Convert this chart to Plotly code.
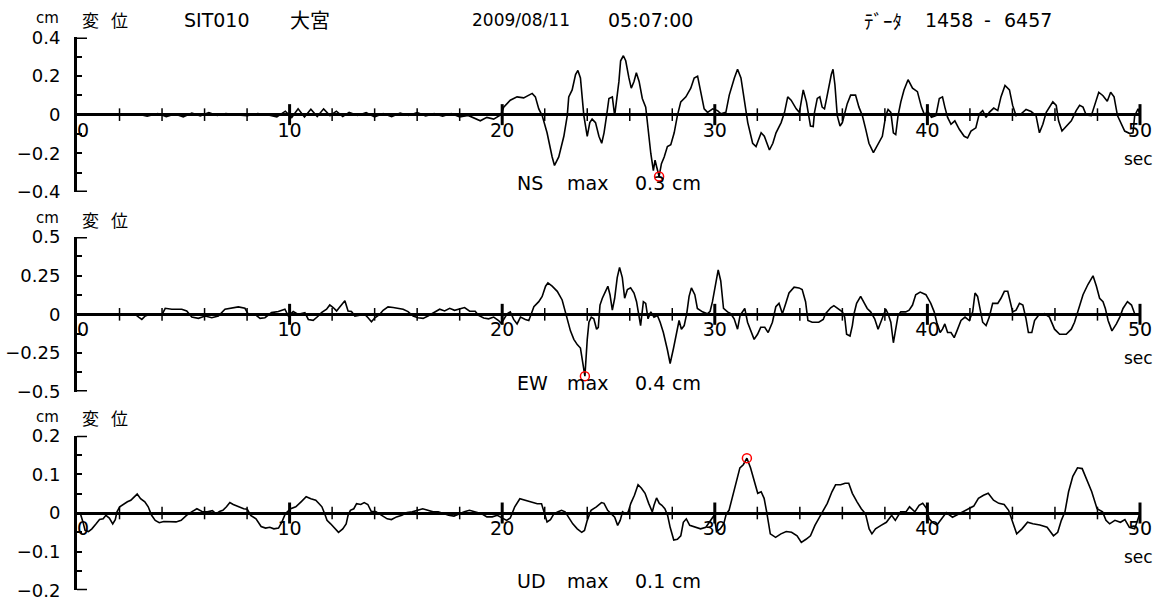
import plotly.graph_objects as go

# ---------------------------------------------------------------------------
# Displacement records (time in s, displacement in cm) for the three components
# ---------------------------------------------------------------------------
NS_TRACE = [
    (0.0, 0.0), (2.0, 0.0), (2.8, 0.005), (3.3, -0.008), (3.8, 0.006), (4.2, -0.010),
    (4.6, 0.004), (5.0, -0.012), (5.4, 0.008), (5.8, -0.006), (6.2, 0.010), (6.6, -0.004),
    (7.0, 0.006), (7.4, 0.0), (8.0, -0.005), (8.5, 0.006), (9.0, -0.002), (9.4, -0.012),
    (9.8, 0.018), (10.1, -0.015), (10.4, 0.030), (10.7, -0.012), (11.0, 0.028), (11.3, -0.010),
    (11.6, 0.030), (11.9, -0.005), (12.2, 0.018), (12.5, -0.010), (12.8, 0.012), (13.2, -0.004),
    (13.6, 0.010), (14.0, -0.012), (14.4, 0.006), (14.8, -0.010), (15.2, 0.008), (15.6, -0.004),
    (16.0, 0.010), (16.4, -0.006), (16.8, 0.005), (17.2, -0.008), (17.6, 0.006), (18.0, -0.012),
    (18.4, -0.004), (18.97, -0.032), (19.28, -0.014), (19.60, -0.023), (19.94, 0.0), (20.07, 0.039),
    (20.38, 0.075), (20.70, 0.092), (21.01, 0.087), (21.25, 0.101), (21.41, 0.110), (21.56, 0.092),
    (21.72, 0.030), (21.88, -0.005), (22.11, -0.094), (22.35, -0.219), (22.46, -0.263), (22.66, -0.219),
    (22.90, -0.112), (23.06, -0.005), (23.13, 0.092), (23.29, 0.128), (23.45, 0.208), (23.56, 0.229),
    (23.68, 0.190), (23.84, -0.005), (24.00, -0.112), (24.12, -0.041), (24.23, -0.023), (24.39, -0.041),
    (24.55, -0.112), (24.68, -0.148), (24.79, -0.094), (24.91, -0.005), (25.02, 0.084), (25.18, 0.092),
    (25.29, -0.005), (25.49, 0.172), (25.57, 0.279), (25.70, 0.305), (25.81, 0.279), (25.96, 0.190),
    (26.07, 0.137), (26.20, 0.172), (26.31, 0.217), (26.44, 0.172), (26.59, 0.084), (26.75, 0.039),
    (26.88, -0.112), (26.99, -0.201), (27.11, -0.290), (27.19, -0.236), (27.27, -0.272), (27.38, -0.320),
    (27.49, -0.254), (27.62, -0.219), (27.77, -0.165), (27.93, -0.156), (28.09, -0.094), (28.24, -0.005),
    (28.40, 0.066), (28.64, 0.092), (28.87, 0.137), (29.03, 0.190), (29.19, 0.199), (29.35, 0.110),
    (29.50, 0.030), (29.66, 0.012), (29.90, 0.030), (30.13, 0.021), (30.29, 0.004), (30.52, 0.012),
    (30.68, 0.101), (30.92, 0.190), (31.07, 0.235), (31.23, 0.190), (31.39, 0.066), (31.55, -0.041),
    (31.78, -0.148), (31.94, -0.165), (32.18, -0.094), (32.33, -0.112), (32.57, -0.183), (32.73, -0.148),
    (32.88, -0.094), (33.12, -0.041), (33.28, 0.012), (33.43, 0.092), (33.59, 0.075), (33.83, 0.030),
    (33.98, 0.012), (34.16, 0.128), (34.31, 0.066), (34.42, -0.005), (34.50, -0.059), (34.63, -0.062),
    (34.69, 0.012), (34.82, 0.084), (34.94, 0.092), (35.05, 0.039), (35.16, 0.030), (35.26, 0.084),
    (35.37, 0.155), (35.48, 0.208), (35.56, 0.235), (35.65, 0.155), (35.76, -0.005), (35.89, -0.059),
    (36.00, -0.041), (36.11, 0.012), (36.23, 0.057), (36.39, 0.101), (36.62, 0.101), (36.78, 0.039),
    (36.94, -0.005), (37.10, -0.076), (37.25, -0.148), (37.46, -0.197), (37.68, -0.148), (37.88, -0.112),
    (38.04, -0.005), (38.15, 0.027), (38.28, 0.012), (38.40, -0.094), (38.51, -0.103), (38.62, -0.005),
    (38.75, 0.066), (38.90, 0.128), (39.09, 0.181), (39.30, 0.137), (39.53, 0.119), (39.72, 0.039),
    (39.88, -0.005), (40.00, 0.021), (40.19, -0.014), (40.40, -0.005), (40.56, 0.084), (40.71, 0.092),
    (40.82, 0.039), (40.95, -0.014), (41.11, -0.050), (41.29, -0.032), (41.50, -0.076), (41.73, -0.112),
    (41.89, -0.121), (42.05, -0.085), (42.28, -0.068), (42.44, 0.004), (42.60, 0.021), (42.76, -0.014),
    (42.91, 0.012), (43.12, 0.034), (43.31, 0.021), (43.46, 0.092), (43.65, 0.151), (43.86, 0.128),
    (44.01, 0.048), (44.17, -0.005), (44.41, 0.004), (44.64, 0.027), (44.88, 0.016), (45.11, -0.005),
    (45.27, -0.094), (45.43, -0.050), (45.59, 0.012), (45.74, 0.039), (45.90, 0.066), (46.06, 0.048),
    (46.17, -0.032), (46.33, -0.085), (46.53, -0.059), (46.77, -0.032), (47.00, 0.021), (47.16, 0.048),
    (47.32, 0.039), (47.47, -0.002), (47.71, -0.005), (47.87, 0.048), (48.06, 0.116), (48.26, 0.098),
    (48.46, 0.069), (48.62, 0.116), (48.78, 0.092), (48.94, -0.005), (49.12, -0.050), (49.28, -0.085),
    (49.52, -0.098), (49.67, -0.094), (49.75, -0.005), (49.91, 0.030), (50.0, 0.0),
]

EW_TRACE = [
    (0.0, 0.0), (2.03, 0.0), (2.74, 0.0), (2.90, -0.018), (3.05, -0.033), (3.21, -0.011),
    (3.44, 0.0), (3.99, -0.004), (4.15, 0.039), (4.46, 0.033), (4.93, 0.033), (5.16, 0.022),
    (5.40, -0.018), (5.71, -0.026), (6.03, -0.011), (6.34, -0.022), (6.65, -0.011), (6.96, 0.033),
    (7.28, 0.039), (7.59, 0.048), (7.90, 0.039), (8.06, 0.0), (8.37, 0.0), (8.61, -0.026),
    (8.84, -0.022), (9.15, 0.011), (9.47, 0.018), (9.78, 0.033), (9.94, -0.011), (10.17, 0.018),
    (10.41, 0.0), (10.72, 0.011), (10.88, -0.033), (11.11, -0.039), (11.35, -0.011), (11.50, 0.011),
    (11.74, 0.033), (11.89, 0.061), (12.05, 0.044), (12.21, 0.022), (12.36, 0.048), (12.60, 0.088),
    (12.75, 0.022), (12.91, 0.018), (13.07, -0.011), (13.30, -0.004), (13.54, 0.0), (13.69, -0.022),
    (13.85, -0.048), (14.01, -0.022), (14.24, 0.0), (14.40, 0.026), (14.63, 0.048), (14.87, 0.044),
    (15.10, 0.039), (15.34, 0.033), (15.57, 0.018), (15.81, -0.011), (16.04, -0.022), (16.28, -0.026),
    (16.51, -0.011), (16.82, 0.011), (17.06, 0.033), (17.29, 0.022), (17.53, 0.039), (17.76, 0.026),
    (18.00, 0.033), (18.23, 0.044), (18.47, 0.020), (18.73, 0.020), (18.89, -0.007), (19.13, -0.024),
    (19.36, -0.029), (19.60, -0.018), (19.83, -0.040), (19.94, -0.056), (20.07, -0.033), (20.23, 0.004),
    (20.38, 0.016), (20.54, -0.033), (20.70, -0.062), (20.86, -0.018), (21.09, -0.033), (21.25, -0.040),
    (21.37, 0.004), (21.49, 0.049), (21.72, 0.082), (21.88, 0.116), (22.04, 0.182), (22.15, 0.204),
    (22.35, 0.182), (22.59, 0.149), (22.82, 0.093), (22.98, 0.016), (23.09, -0.051), (23.21, -0.107),
    (23.37, -0.162), (23.53, -0.196), (23.68, -0.218), (23.79, -0.318), (23.89, -0.400), (24.00, -0.162),
    (24.08, -0.051), (24.19, -0.018), (24.31, -0.029), (24.44, -0.096), (24.52, -0.084), (24.60, 0.060),
    (24.71, 0.104), (24.86, 0.149), (24.97, 0.182), (25.07, 0.127), (25.18, 0.027), (25.29, 0.104),
    (25.41, 0.238), (25.52, 0.304), (25.65, 0.238), (25.76, 0.104), (25.89, 0.160), (26.04, 0.171),
    (26.20, 0.138), (26.32, 0.082), (26.43, -0.007), (26.51, -0.073), (26.64, 0.082), (26.75, 0.071),
    (26.86, -0.029), (26.99, 0.016), (27.14, -0.018), (27.30, -0.007), (27.43, -0.051), (27.58, -0.118),
    (27.77, -0.229), (27.90, -0.318), (28.06, -0.218), (28.21, -0.107), (28.32, -0.040), (28.43, -0.096),
    (28.56, -0.073), (28.68, 0.004), (28.79, 0.116), (28.90, 0.171), (29.06, 0.127), (29.18, 0.038),
    (29.42, 0.016), (29.65, 0.004), (29.78, 0.020), (29.89, 0.082), (30.05, 0.216), (30.16, 0.287),
    (30.28, 0.216), (30.41, 0.038), (30.60, 0.016), (30.75, 0.004), (30.91, -0.029), (31.07, -0.096),
    (31.19, -0.007), (31.30, 0.020), (31.41, 0.038), (31.54, -0.051), (31.69, -0.107), (31.85, -0.162),
    (32.01, -0.129), (32.16, -0.084), (32.35, -0.084), (32.51, -0.118), (32.71, -0.051), (32.87, 0.049),
    (33.02, 0.071), (33.18, 0.004), (33.34, 0.071), (33.49, 0.138), (33.73, 0.176), (33.96, 0.171),
    (34.11, 0.160), (34.27, 0.082), (34.38, -0.040), (34.58, -0.051), (34.89, -0.051), (35.10, -0.033),
    (35.21, 0.004), (35.45, 0.042), (35.60, 0.056), (35.79, 0.038), (36.00, 0.016), (36.11, -0.018),
    (36.20, -0.129), (36.36, -0.140), (36.47, -0.073), (36.55, 0.004), (36.67, 0.071), (36.86, 0.116),
    (36.99, 0.082), (37.17, 0.038), (37.33, 0.016), (37.52, -0.029), (37.68, -0.096), (37.80, -0.051),
    (37.93, 0.004), (38.04, 0.033), (38.15, 0.004), (38.28, -0.051), (38.40, -0.184), (38.51, -0.107),
    (38.62, -0.007), (38.75, 0.016), (38.98, 0.016), (39.14, 0.027), (39.30, 0.060), (39.45, 0.127),
    (39.66, 0.144), (39.93, 0.127), (40.16, 0.071), (40.32, 0.016), (40.44, -0.051), (40.60, -0.118),
    (40.71, -0.096), (40.82, -0.062), (40.95, -0.118), (41.11, -0.118), (41.26, -0.151), (41.39, -0.107),
    (41.58, -0.040), (41.77, -0.018), (41.97, -0.040), (42.13, 0.016), (42.24, 0.138), (42.36, 0.116),
    (42.49, 0.027), (42.60, -0.051), (42.76, -0.073), (42.91, -0.018), (43.07, 0.071), (43.31, 0.071),
    (43.46, 0.104), (43.62, 0.149), (43.78, 0.149), (43.90, 0.082), (44.01, 0.016), (44.17, 0.027),
    (44.33, 0.071), (44.49, 0.060), (44.64, -0.029), (44.75, -0.118), (44.91, -0.118), (45.04, -0.040),
    (45.22, -0.007), (45.51, 0.004), (45.74, -0.018), (45.98, -0.096), (46.22, -0.129), (46.53, -0.129),
    (46.77, -0.096), (46.92, -0.051), (47.08, 0.027), (47.32, 0.127), (47.55, 0.193), (47.79, 0.249),
    (47.95, 0.182), (48.10, 0.104), (48.26, 0.082), (48.37, 0.038), (48.50, -0.040), (48.68, -0.107),
    (48.89, -0.062), (49.05, -0.018), (49.20, 0.038), (49.41, 0.082), (49.60, 0.060), (49.75, 0.004),
    (49.91, -0.007), (50.0, 0.0),
]

UD_TRACE = [
    (0.0, 0.0), (0.16, -0.002), (0.28, -0.023), (0.38, -0.045), (0.54, -0.048), (0.70, -0.041),
    (0.90, -0.028), (1.06, -0.017), (1.23, -0.015), (1.36, -0.006), (1.52, -0.013), (1.68, -0.028),
    (1.80, -0.017), (1.88, 0.003), (2.01, 0.016), (2.21, 0.024), (2.37, 0.029), (2.53, 0.033),
    (2.70, 0.042), (2.83, 0.049), (2.99, 0.037), (3.19, 0.029), (3.35, 0.016), (3.51, -0.006),
    (3.68, -0.019), (3.87, -0.025), (4.08, -0.022), (4.33, -0.023), (4.66, -0.023), (4.90, -0.019),
    (5.15, -0.006), (5.39, 0.003), (5.64, 0.011), (5.88, 0.004), (6.13, 0.003), (6.37, 0.006),
    (6.54, -0.002), (6.70, 0.004), (6.86, 0.007), (7.03, 0.016), (7.19, 0.027), (7.35, 0.022),
    (7.60, 0.016), (7.84, 0.011), (8.01, 0.010), (8.17, -0.006), (8.42, -0.015), (8.66, -0.035),
    (8.87, -0.039), (9.07, -0.037), (9.26, -0.041), (9.48, -0.039), (9.64, -0.023), (9.80, -0.002),
    (10.05, 0.011), (10.29, 0.016), (10.54, 0.029), (10.78, 0.042), (11.00, 0.037), (11.23, 0.033),
    (11.39, 0.024), (11.52, 0.016), (11.65, -0.002), (11.76, -0.019), (11.93, -0.028), (12.09, -0.037),
    (12.30, -0.050), (12.50, -0.041), (12.66, -0.028), (12.75, -0.006), (12.86, 0.007), (13.02, 0.011),
    (13.15, 0.024), (13.35, 0.022), (13.51, 0.027), (13.68, 0.022), (13.84, 0.004), (14.05, 0.004),
    (14.22, -0.002), (14.38, -0.008), (14.59, -0.015), (14.79, -0.017), (15.03, -0.010), (15.28, -0.006),
    (15.52, 0.001), (15.77, 0.003), (16.01, 0.007), (16.26, 0.011), (16.50, 0.007), (16.75, 0.003),
    (16.99, 0.003), (17.24, -0.002), (17.48, -0.006), (17.73, -0.008), (17.97, -0.002), (18.22, 0.003),
    (18.46, 0.007), (18.71, 0.003), (19.04, -0.002), (19.28, -0.010), (19.53, -0.010), (19.77, -0.006),
    (19.98, -0.013), (20.21, -0.019), (20.38, -0.013), (20.59, 0.016), (20.83, 0.037), (21.08, 0.033),
    (21.32, 0.029), (21.65, 0.024), (21.85, 0.024), (21.98, 0.003), (22.11, -0.023), (22.27, -0.017),
    (22.43, -0.002), (22.63, 0.003), (22.79, 0.007), (22.96, 0.003), (23.12, -0.010), (23.32, -0.028),
    (23.53, -0.041), (23.74, -0.050), (23.87, -0.045), (24.00, -0.019), (24.18, 0.007), (24.43, 0.016),
    (24.67, 0.027), (24.79, 0.025), (24.96, 0.007), (25.13, -0.002), (25.29, -0.011), (25.43, -0.032),
    (25.55, -0.019), (25.66, 0.003), (25.80, -0.002), (25.93, 0.003), (26.05, 0.025), (26.22, 0.046),
    (26.39, 0.073), (26.55, 0.064), (26.72, 0.051), (26.89, 0.025), (27.06, 0.003), (27.14, 0.020),
    (27.26, 0.039), (27.39, 0.025), (27.51, 0.020), (27.65, 0.011), (27.78, -0.006), (27.90, -0.037),
    (28.07, -0.070), (28.24, -0.068), (28.40, -0.059), (28.52, -0.024), (28.66, -0.015), (28.82, -0.032),
    (29.08, -0.037), (29.33, -0.041), (29.58, -0.037), (29.75, -0.024), (29.97, -0.006), (30.08, -0.048),
    (30.25, -0.041), (30.42, -0.028), (30.54, -0.002), (30.67, 0.007), (30.81, 0.038), (30.97, 0.073),
    (31.18, 0.117), (31.34, 0.125), (31.51, 0.142), (31.68, 0.117), (31.85, 0.082), (32.02, 0.051),
    (32.18, 0.055), (32.32, 0.038), (32.44, 0.003), (32.61, -0.054), (32.86, -0.063), (33.11, -0.054),
    (33.36, -0.048), (33.61, -0.050), (33.87, -0.059), (34.07, -0.076), (34.29, -0.068), (34.50, -0.059),
    (34.71, -0.032), (34.91, -0.011), (35.13, 0.011), (35.29, 0.025), (35.51, 0.055), (35.68, 0.073),
    (35.92, 0.073), (36.13, 0.077), (36.30, 0.077), (36.47, 0.051), (36.69, 0.029), (36.89, 0.011),
    (37.09, -0.002), (37.26, -0.041), (37.39, -0.054), (37.56, -0.041), (37.82, -0.032), (38.07, -0.024),
    (38.32, -0.006), (38.49, -0.019), (38.74, 0.003), (38.99, 0.003), (39.16, 0.016), (39.41, 0.003),
    (39.61, 0.020), (39.78, 0.025), (39.95, 0.013), (40.08, -0.015), (40.25, -0.025), (40.45, -0.031),
    (40.67, -0.015), (40.89, 0.001), (41.18, -0.011), (41.43, -0.004), (41.68, 0.003), (41.93, 0.011),
    (42.18, 0.018), (42.40, 0.038), (42.64, 0.046), (42.86, 0.051), (43.11, 0.033), (43.36, 0.025),
    (43.61, 0.022), (43.82, 0.007), (44.03, -0.024), (44.20, -0.054), (44.45, -0.041), (44.71, -0.024),
    (44.96, -0.028), (45.29, -0.031), (45.63, -0.037), (45.93, -0.059), (46.13, -0.050), (46.30, -0.019),
    (46.47, 0.003), (46.64, 0.055), (46.84, 0.095), (47.06, 0.117), (47.28, 0.115), (47.48, 0.090),
    (47.73, 0.055), (47.98, 0.011), (48.24, 0.003), (48.40, -0.019), (48.57, -0.028), (48.82, -0.019),
    (49.08, -0.024), (49.29, -0.017), (49.50, -0.037), (49.75, -0.041), (49.92, -0.015), (50.0, 0.0),
]

COMPONENTS = ["NS", "EW", "UD"]
TRACES = {"NS": NS_TRACE, "EW": EW_TRACE, "UD": UD_TRACE}

# vertical scale of each panel (cm)
Y_LIMIT = {"NS": 0.4, "EW": 0.5, "UD": 0.2}
Y_LABEL_VALUES = {
    "NS": [0.4, 0.2, 0.0, -0.2, -0.4],
    "EW": [0.5, 0.25, 0.0, -0.25, -0.5],
    "UD": [0.2, 0.1, 0.0, -0.1, -0.2],
}
Y_LABEL_TEXT = {
    "NS": ["0.4", "0.2", "0", "\u22120.2", "\u22120.4"],
    "EW": ["0.5", "0.25", "0", "\u22120.25", "\u22120.5"],
    "UD": ["0.2", "0.1", "0", "\u22120.1", "\u22120.2"],
}
Y_MINOR_STEP = {"NS": 0.1, "EW": 0.125, "UD": 0.05}

# time axis
DURATION = 50
X_LABEL_VALUES = [0, 10, 20, 30, 40, 50]
X_LABEL_TEXT = ["\u20070", "10", "20", "30", "40", "50"]
X_TICK_STEP = 2
TIME_UNIT = "sec"

# header
UNIT = "cm"
QUANTITY = ["変", "位"]
STATION_CODE = "SIT010"
STATION_NAME = "大宮"
EVENT_DATE = "2009/08/11"
EVENT_TIME = "05:07:00"
SAMPLE_WORD = "ﾃﾞｰﾀ"
SAMPLE_FIRST = "1458"
SAMPLE_LAST = "6457"

# ---------------------------------------------------------------------------
# Layout.  Positions below are given in screen pixels and converted to the
# figure's paper coordinates by the helpers.
# ---------------------------------------------------------------------------
FIG_W, FIG_H = 1163, 605
Y_SHIFT, Y_SCALE = 10.7, 0.962
PLOT_LEFT, PLOT_RIGHT = 77, 1140
PANEL_TOPS = [37, 236, 434]
PANEL_HEIGHT = 154

LATIN = "DejaVu Sans, Noto Sans CJK JP, sans-serif"
CJK = "Noto Sans CJK JP, sans-serif"


def fig_y(py):
    return (py - Y_SHIFT) / Y_SCALE


def paper_x(px):
    return (px - PLOT_LEFT) / (PLOT_RIGHT - PLOT_LEFT)


def paper_y(py):
    return 1 - fig_y(py) / FIG_H


def label(text, px, py, size=19, family=LATIN, anchor="left"):
    return dict(text=text, x=paper_x(px), y=paper_y(py), xref="paper", yref="paper",
                xanchor=anchor, yanchor="middle", showarrow=False,
                font=dict(family=family, size=size, color="black"))


fig = go.Figure()
axes = {}
annotations = []
shapes = []

minor_times = [s for s in range(X_TICK_STEP, DURATION, X_TICK_STEP) if s % 10]
major_times = X_LABEL_VALUES[1:]

for i, comp in enumerate(COMPONENTS):
    suffix = "" if i == 0 else str(i + 1)
    xa, ya = "x" + suffix, "y" + suffix
    top = PANEL_TOPS[i]
    zero_py = top + PANEL_HEIGHT / 2
    d0, d1 = paper_y(top + PANEL_HEIGHT), paper_y(top)
    lim = Y_LIMIT[comp]

    t = [p[0] for p in TRACES[comp]]
    v = [p[1] for p in TRACES[comp]]

    # waveform
    fig.add_trace(go.Scatter(x=t, y=v, mode="lines", xaxis=xa, yaxis=ya,
                             line=dict(color="black", width=1.6),
                             hoverinfo="skip", showlegend=False))
    # time ticks crossing the baseline
    fig.add_trace(go.Scatter(x=minor_times, y=[0] * len(minor_times), mode="markers",
                             xaxis=xa, yaxis=ya, cliponaxis=False,
                             marker=dict(symbol="line-ns", size=9,
                                         line=dict(color="black", width=1.5)),
                             hoverinfo="skip", showlegend=False))
    fig.add_trace(go.Scatter(x=major_times, y=[0] * len(major_times), mode="markers",
                             xaxis=xa, yaxis=ya, cliponaxis=False,
                             marker=dict(symbol="line-ns", size=15,
                                         line=dict(color="black", width=3)),
                             hoverinfo="skip", showlegend=False))
    # peak amplitude marker
    k = max(range(len(v)), key=lambda j: abs(v[j]))
    fig.add_trace(go.Scatter(x=[t[k]], y=[v[k]], mode="markers", xaxis=xa, yaxis=ya,
                             cliponaxis=False,
                             marker=dict(symbol="circle-open", size=9, color="red",
                                         line=dict(color="red", width=1.5)),
                             hoverinfo="skip", showlegend=False))
    peak_text = f"{abs(v[k]):.1f}"

    axes["xaxis" + suffix] = dict(
        domain=[0, 1], range=[0, DURATION], anchor="free", position=(d0 + d1) / 2,
        showline=False, showgrid=False, zeroline=False, ticks="",
        tickmode="array", tickvals=X_LABEL_VALUES, ticktext=X_LABEL_TEXT,
        tickfont=dict(family=LATIN, size=19, color="black"),
        ticklabelstandoff=2, fixedrange=True,
    )
    axes["yaxis" + suffix] = dict(
        domain=[d0, d1], range=[-lim, lim], anchor=xa,
        showline=True, linewidth=3, linecolor="black", showgrid=False,
        zeroline=True, zerolinewidth=3, zerolinecolor="black",
        ticks="inside", ticklen=5, tickwidth=2, tickcolor="black",
        tickmode="array", tickvals=Y_LABEL_VALUES[comp], ticktext=Y_LABEL_TEXT[comp],
        minor=dict(tickmode="linear", tick0=0, dtick=Y_MINOR_STEP[comp], ticks="inside",
                   ticklen=5, tickwidth=2, tickcolor="black", showgrid=False),
        tickfont=dict(family=LATIN, size=18, color="black"),
        ticklabelstandoff=10, fixedrange=True,
    )

    # end caps of the amplitude scale
    for end in (lim, -lim):
        shapes.append(dict(type="line", xref=xa + " domain", yref=ya,
                           x0=0, x1=10 / (PLOT_RIGHT - PLOT_LEFT), y0=end, y1=end,
                           line=dict(color="black", width=3)))

    # panel heading
    annotations.append(label(UNIT, 34, top - 19, size=15))
    annotations.append(label(QUANTITY[0], 80, top - 18, size=17, family=CJK))
    annotations.append(label(QUANTITY[1], 109, top - 18, size=17, family=CJK))

    # peak amplitude caption and time unit
    cap_py = zero_py + 68
    annotations.append(label(comp, 515, cap_py))
    annotations.append(label("max", 565, cap_py))
    annotations.append(label(peak_text, 633, cap_py))
    annotations.append(label(UNIT, 670, cap_py))
    annotations.append(label(TIME_UNIT, 1122, zero_py + 44, size=17))

# record header line
annotations.append(label(STATION_CODE, 182, 20))
annotations.append(label(STATION_NAME, 288, 19, size=20, family=CJK))
annotations.append(label(EVENT_DATE, 470, 20, size=17))
annotations.append(label(EVENT_TIME, 606, 20))
annotations.append(label(SAMPLE_WORD, 862, 20, family=CJK))
annotations.append(label(SAMPLE_FIRST, 923, 20))
annotations.append(label("-", 982, 20))
annotations.append(label(SAMPLE_LAST, 1002, 20))

fig.update_layout(
    width=FIG_W, height=FIG_H,
    margin=dict(l=PLOT_LEFT, r=FIG_W - PLOT_RIGHT, t=0, b=0, pad=0),
    paper_bgcolor="white", plot_bgcolor="white",
    showlegend=False, annotations=annotations, shapes=shapes,
    font=dict(family=LATIN, color="black"),
    **axes,
)

fig.write_html("out.html", config={"displayModeBar": False, "staticPlot": True})
